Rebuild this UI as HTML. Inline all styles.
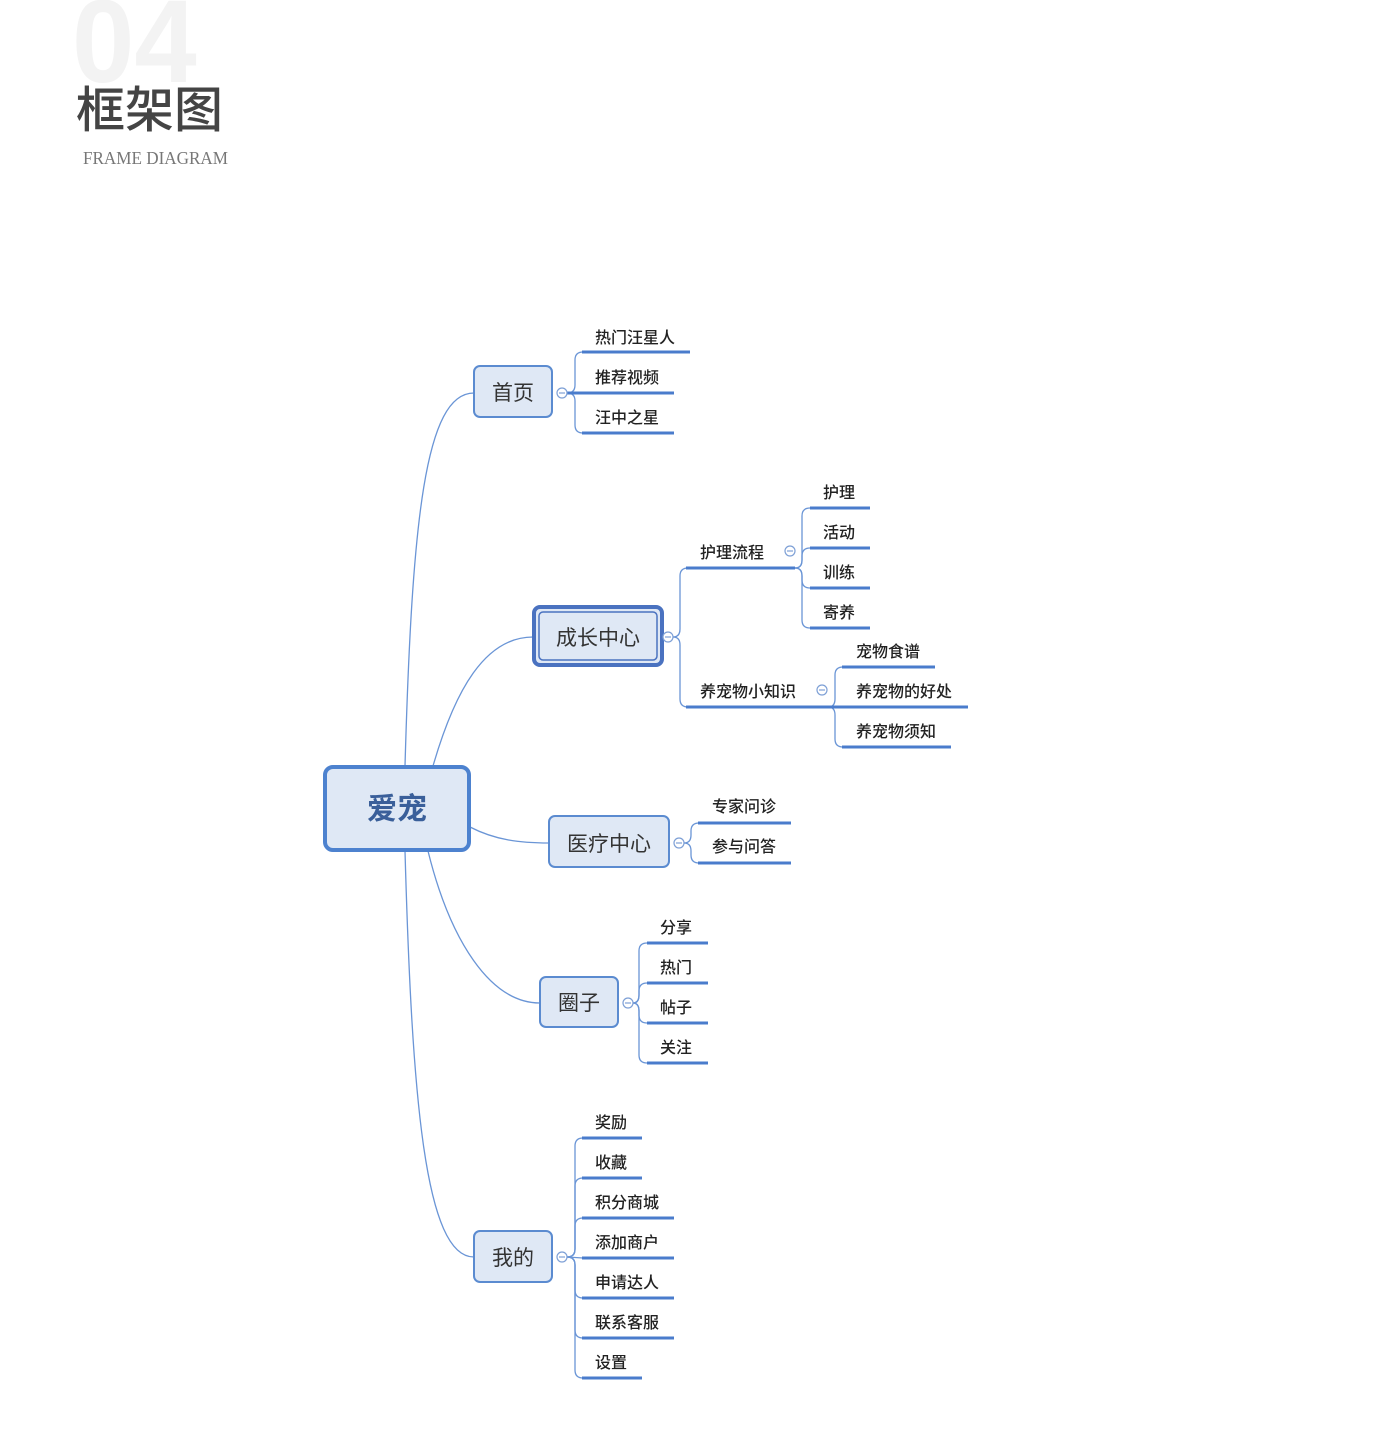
<!DOCTYPE html>
<html><head><meta charset="utf-8"><style>
html,body{margin:0;padding:0;background:#fff;}
body{width:1400px;height:1438px;position:relative;overflow:hidden;}
svg{position:absolute;left:0;top:0;}
</style></head><body>
<svg width="1400" height="1438" xmlns="http://www.w3.org/2000/svg" font-family="'Liberation Sans','Noto Sans CJK SC',sans-serif">
<!-- header -->
<text x="72" y="82" font-size="118" font-weight="bold" fill="#f3f3f3" font-family="'Liberation Sans',sans-serif" transform="translate(72 0) scale(0.95 1) translate(-72 0)">04</text>
<text x="76" y="127" font-size="49" fill="#444" font-family="'Noto Sans CJK SC',sans-serif" font-weight="500">框架图</text>
<text x="83" y="164" font-size="18" fill="#777" font-family="'Liberation Serif',serif" textLength="145" lengthAdjust="spacingAndGlyphs">FRAME DIAGRAM</text>

<g fill="none" stroke="#6a95d6" stroke-width="1.3">
<path d="M405 766 C412 520 425 393 474 393"/>
<path d="M433 766 C455 690 485 637 533 637"/>
<path d="M470 827 C495 840 520 843 549 843"/>
<path d="M428 851 C450 940 490 1003 540 1003"/>
<path d="M405 851 C412 1100 425 1257 474 1257"/>
<path d="M567 393 Q575 393 575 385 L575 360 Q575 352 583 352"/>
<path d="M567 393 Q575 393 575 401 L575 425 Q575 433 583 433"/>
<path d="M673 637 Q680 637 680 629 L680 576 Q680 568 688 568"/>
<path d="M673 637 Q680 637 680 645 L680 699 Q680 707 688 707"/>
<path d="M795 568 Q802 568 802 560 L802 516 Q802 508 810 508"/>
<path d="M795 568 Q802 568 802 560 L802 556 Q802 548 810 548"/>
<path d="M795 568 Q802 568 802 576 L802 580 Q802 588 810 588"/>
<path d="M795 568 Q802 568 802 576 L802 620 Q802 628 810 628"/>
<path d="M828 707 Q835 707 835 699 L835 675 Q835 667 843 667"/>
<path d="M828 707 Q835 707 835 715 L835 739 Q835 747 843 747"/>
<path d="M684 843 Q691 843 691 835 L691 831 Q691 823 699 823"/>
<path d="M684 843 Q691 843 691 851 L691 855 Q691 863 699 863"/>
<path d="M633 1003 Q639 1003 639 995 L639 951 Q639 943 647 943"/>
<path d="M633 1003 Q639 1003 639 995 L639 991 Q639 983 647 983"/>
<path d="M633 1003 Q639 1003 639 1011 L639 1015 Q639 1023 647 1023"/>
<path d="M633 1003 Q639 1003 639 1011 L639 1055 Q639 1063 647 1063"/>
<path d="M567 1257 Q575 1257 575 1249 L575 1146 Q575 1138 583 1138"/>
<path d="M567 1257 Q575 1257 575 1249 L575 1186 Q575 1178 583 1178"/>
<path d="M567 1257 Q575 1257 575 1249 L575 1226 Q575 1218 583 1218"/>
<path d="M567 1257 L583 1258"/>
<path d="M567 1257 Q575 1257 575 1265 L575 1290 Q575 1298 583 1298"/>
<path d="M567 1257 Q575 1257 575 1265 L575 1330 Q575 1338 583 1338"/>
<path d="M567 1257 Q575 1257 575 1265 L575 1370 Q575 1378 583 1378"/>
</g>

<g stroke="#4a7ccc" stroke-width="3">
<line x1="582" y1="352" x2="690" y2="352"/>
<line x1="567" y1="393" x2="674" y2="393"/>
<line x1="582" y1="433" x2="674" y2="433"/>
<line x1="686" y1="568" x2="795" y2="568"/>
<line x1="810" y1="508" x2="870" y2="508"/>
<line x1="810" y1="548" x2="870" y2="548"/>
<line x1="810" y1="588" x2="870" y2="588"/>
<line x1="810" y1="628" x2="870" y2="628"/>
<line x1="686" y1="707" x2="968" y2="707"/>
<line x1="842" y1="667" x2="935" y2="667"/>
<line x1="842" y1="747" x2="951" y2="747"/>
<line x1="698" y1="823" x2="791" y2="823"/>
<line x1="698" y1="863" x2="791" y2="863"/>
<line x1="647" y1="943" x2="708" y2="943"/>
<line x1="647" y1="983" x2="708" y2="983"/>
<line x1="647" y1="1023" x2="708" y2="1023"/>
<line x1="647" y1="1063" x2="708" y2="1063"/>
<line x1="582" y1="1138" x2="642" y2="1138"/>
<line x1="582" y1="1178" x2="642" y2="1178"/>
<line x1="582" y1="1218" x2="674" y2="1218"/>
<line x1="582" y1="1258" x2="674" y2="1258"/>
<line x1="582" y1="1298" x2="674" y2="1298"/>
<line x1="582" y1="1338" x2="674" y2="1338"/>
<line x1="582" y1="1378" x2="642" y2="1378"/>
</g>

<g fill="#dfe8f5" stroke="#5b8bd0" stroke-width="2">
<rect x="474" y="366" width="78" height="51" rx="6"/>
<rect x="549" y="816" width="120" height="51" rx="6"/>
<rect x="540" y="977" width="78" height="50" rx="6"/>
<rect x="474" y="1231" width="78" height="51" rx="6"/>
</g>
<rect x="534" y="607" width="128" height="58" rx="6" fill="#dfe8f5" stroke="#4a72c0" stroke-width="4"/>
<rect x="539" y="612" width="118" height="48" rx="4" fill="none" stroke="#4a72c0" stroke-width="1.5"/>
<rect x="325" y="767" width="144" height="83" rx="8" fill="#dfe8f5" stroke="#4d82cf" stroke-width="4"/>

<g fill="#fff" stroke="#7ea0d6" stroke-width="1.2">
<circle cx="562" cy="393" r="5"/><circle cx="668" cy="637" r="5"/><circle cx="790" cy="551" r="5"/>
<circle cx="822" cy="690" r="5"/><circle cx="679" cy="843" r="5"/><circle cx="628" cy="1003" r="5"/><circle cx="562" cy="1257" r="5"/>
</g>
<g stroke="#7ea0d6" stroke-width="1.2">
<line x1="559" y1="393" x2="565" y2="393"/><line x1="665" y1="637" x2="671" y2="637"/><line x1="787" y1="551" x2="793" y2="551"/>
<line x1="819" y1="690" x2="825" y2="690"/><line x1="676" y1="843" x2="682" y2="843"/><line x1="625" y1="1003" x2="631" y2="1003"/><line x1="559" y1="1257" x2="565" y2="1257"/>
</g>

<g fill="#333" font-size="21" text-anchor="middle">
<text x="513" y="400">首页</text>
<text x="598" y="645">成长中心</text>
<text x="609" y="851">医疗中心</text>
<text x="579" y="1010">圈子</text>
<text x="513" y="1265">我的</text>
</g>
<text x="397" y="819" font-size="30" font-weight="bold" fill="#3a5f9a" text-anchor="middle">爱宠</text>

<g fill="#222" font-size="16" font-weight="500">
<text x="595" y="343">热门汪星人</text>
<text x="595" y="383">推荐视频</text>
<text x="595" y="423">汪中之星</text>
<text x="700" y="558">护理流程</text>
<text x="823" y="498">护理</text>
<text x="823" y="538">活动</text>
<text x="823" y="578">训练</text>
<text x="823" y="618">寄养</text>
<text x="700" y="697">养宠物小知识</text>
<text x="856" y="657">宠物食谱</text>
<text x="856" y="697">养宠物的好处</text>
<text x="856" y="737">养宠物须知</text>
<text x="712" y="812">专家问诊</text>
<text x="712" y="852">参与问答</text>
<text x="660" y="933">分享</text>
<text x="660" y="973">热门</text>
<text x="660" y="1013">帖子</text>
<text x="660" y="1053">关注</text>
<text x="595" y="1128">奖励</text>
<text x="595" y="1168">收藏</text>
<text x="595" y="1208">积分商城</text>
<text x="595" y="1248">添加商户</text>
<text x="595" y="1288">申请达人</text>
<text x="595" y="1328">联系客服</text>
<text x="595" y="1368">设置</text>
</g>
</svg>
</body></html>
